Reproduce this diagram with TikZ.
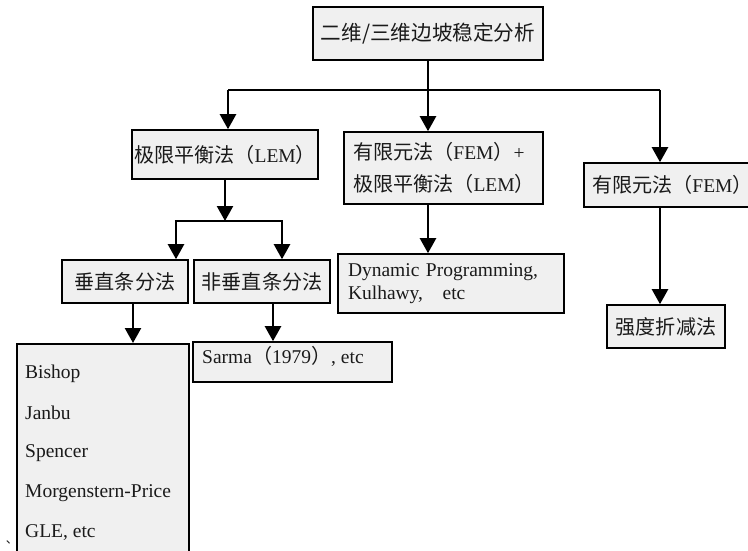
\documentclass[tikz,border=0pt]{standalone}
\usepackage{fontspec}
\setmainfont{Liberation Serif}
\newfontfamily\cjk[Scale=1.03]{Noto Sans CJK SC}
\usetikzlibrary{arrows.meta}
\definecolor{boxgray}{HTML}{F0F0F0}
\definecolor{ink}{HTML}{1A1A1A}
\begin{document}
\begin{tikzpicture}[x=1pt,y=-1pt,
  box/.style={draw=black, line width=1.6pt, fill=boxgray, inner sep=0pt, text=ink,
    font=\fontsize{19.5}{23}\selectfont},
  lbox/.style={box, align=left, inner xsep=9pt},
  txt/.style={anchor=west, inner sep=0pt, text=ink, font=\fontsize{19.5}{23}\selectfont},
  ln/.style={line width=2.4pt},
  arr/.style={line width=2.4pt, -{Triangle[width=16pt,length=15pt]}}]
\useasboundingbox (0,0) rectangle (748,551);

% boxes
\node[box, minimum width=230pt, minimum height=53pt, font=\fontsize{20}{24}\selectfont] (top) at (428,33.5) {\cjk 二维/三维边坡稳定分析};
\node[box, minimum width=186pt, minimum height=49pt] (lem) at (225,154.5) {{\cjk 极限平衡法（}LEM{\cjk ）}};
\node[lbox, text width=181pt, minimum height=72pt, font=\fontsize{19.5}{32}\selectfont] (mid) at (443.5,168)
  {{\cjk 有限元法（}FEM{\cjk ）}+\\{\cjk 极限平衡法（}LEM{\cjk ）}};
\node[lbox, text width=170pt, minimum height=44pt, inner xsep=8pt] (fem) at (677,185) {{\cjk 有限元法（}FEM{\cjk ）}};
\node[lbox, text width=206pt, minimum height=59pt, inner xsep=10pt, font=\fontsize{19.5}{23}\selectfont] (dyn) at (451,283.5)
  {Dynamic Programming,\\Kulhawy,\quad etc};
\node[box, minimum width=118pt, minimum height=43pt] (qd) at (666,326.5) {\cjk 强度折减法};
\node[box, minimum width=126pt, minimum height=43pt] (vert) at (125,281.5) {\cjk 垂直条分法};
\node[box, minimum width=136pt, minimum height=43pt] (nonvert) at (262,281.5) {\cjk 非垂直条分法};
\node[box, minimum width=199pt, minimum height=40pt] (sarma) at (292.5,362) {};
\node[txt] (sarmaT) at (202,356) {Sarma{\cjk （}1979{\cjk ）}, etc};
\node[box, minimum width=172pt, minimum height=250pt, anchor=north west] (bishop) at (16,343) {};
\node[txt] (b1) at (25,374) {Bishop};
\node[txt] (b2) at (25,413) {Janbu};
\node[txt] (b3) at (25,453) {Spencer};
\node[txt] (b4) at (25,493) {Morgenstern-Price};
\node[txt] (b5) at (25,533) {GLE, etc};
\node[inner sep=0pt, text=ink, font=\fontsize{12}{12}\selectfont] (tick) at (12,542) {\cjk 、};

% connectors
\coordinate (hl) at (228,90);
\coordinate (hr) at (660,90);
\draw[ln] (hl) -- (hr);
\draw[arr] (hl) -- (hl |- lem.north);
\draw[arr] (hr) -- (hr |- fem.north);
\draw[arr] (top.south) -- (top.south |- mid.north);
\draw[arr] (top.south |- mid.south) -- (top.south |- dyn.north);
\draw[arr] (hr |- fem.south) -- (hr |- qd.north);

\coordinate (jl) at (176,221);
\coordinate (jr) at (282,221);
\draw[arr] (lem.south) -- (lem.south |- jl);
\draw[ln] ([xshift=-1.2pt]jl) -- ([xshift=1.2pt]jr);
\draw[arr] (jl) -- (jl |- vert.north);
\draw[arr] (jr) -- (jr |- nonvert.north);
\draw[arr] ([xshift=8pt]vert.south) -- ([xshift=8pt]vert.south |- bishop.north);
\draw[arr] ([xshift=11pt]nonvert.south) -- ([xshift=11pt]nonvert.south |- sarma.north);
\end{tikzpicture}
\end{document}
